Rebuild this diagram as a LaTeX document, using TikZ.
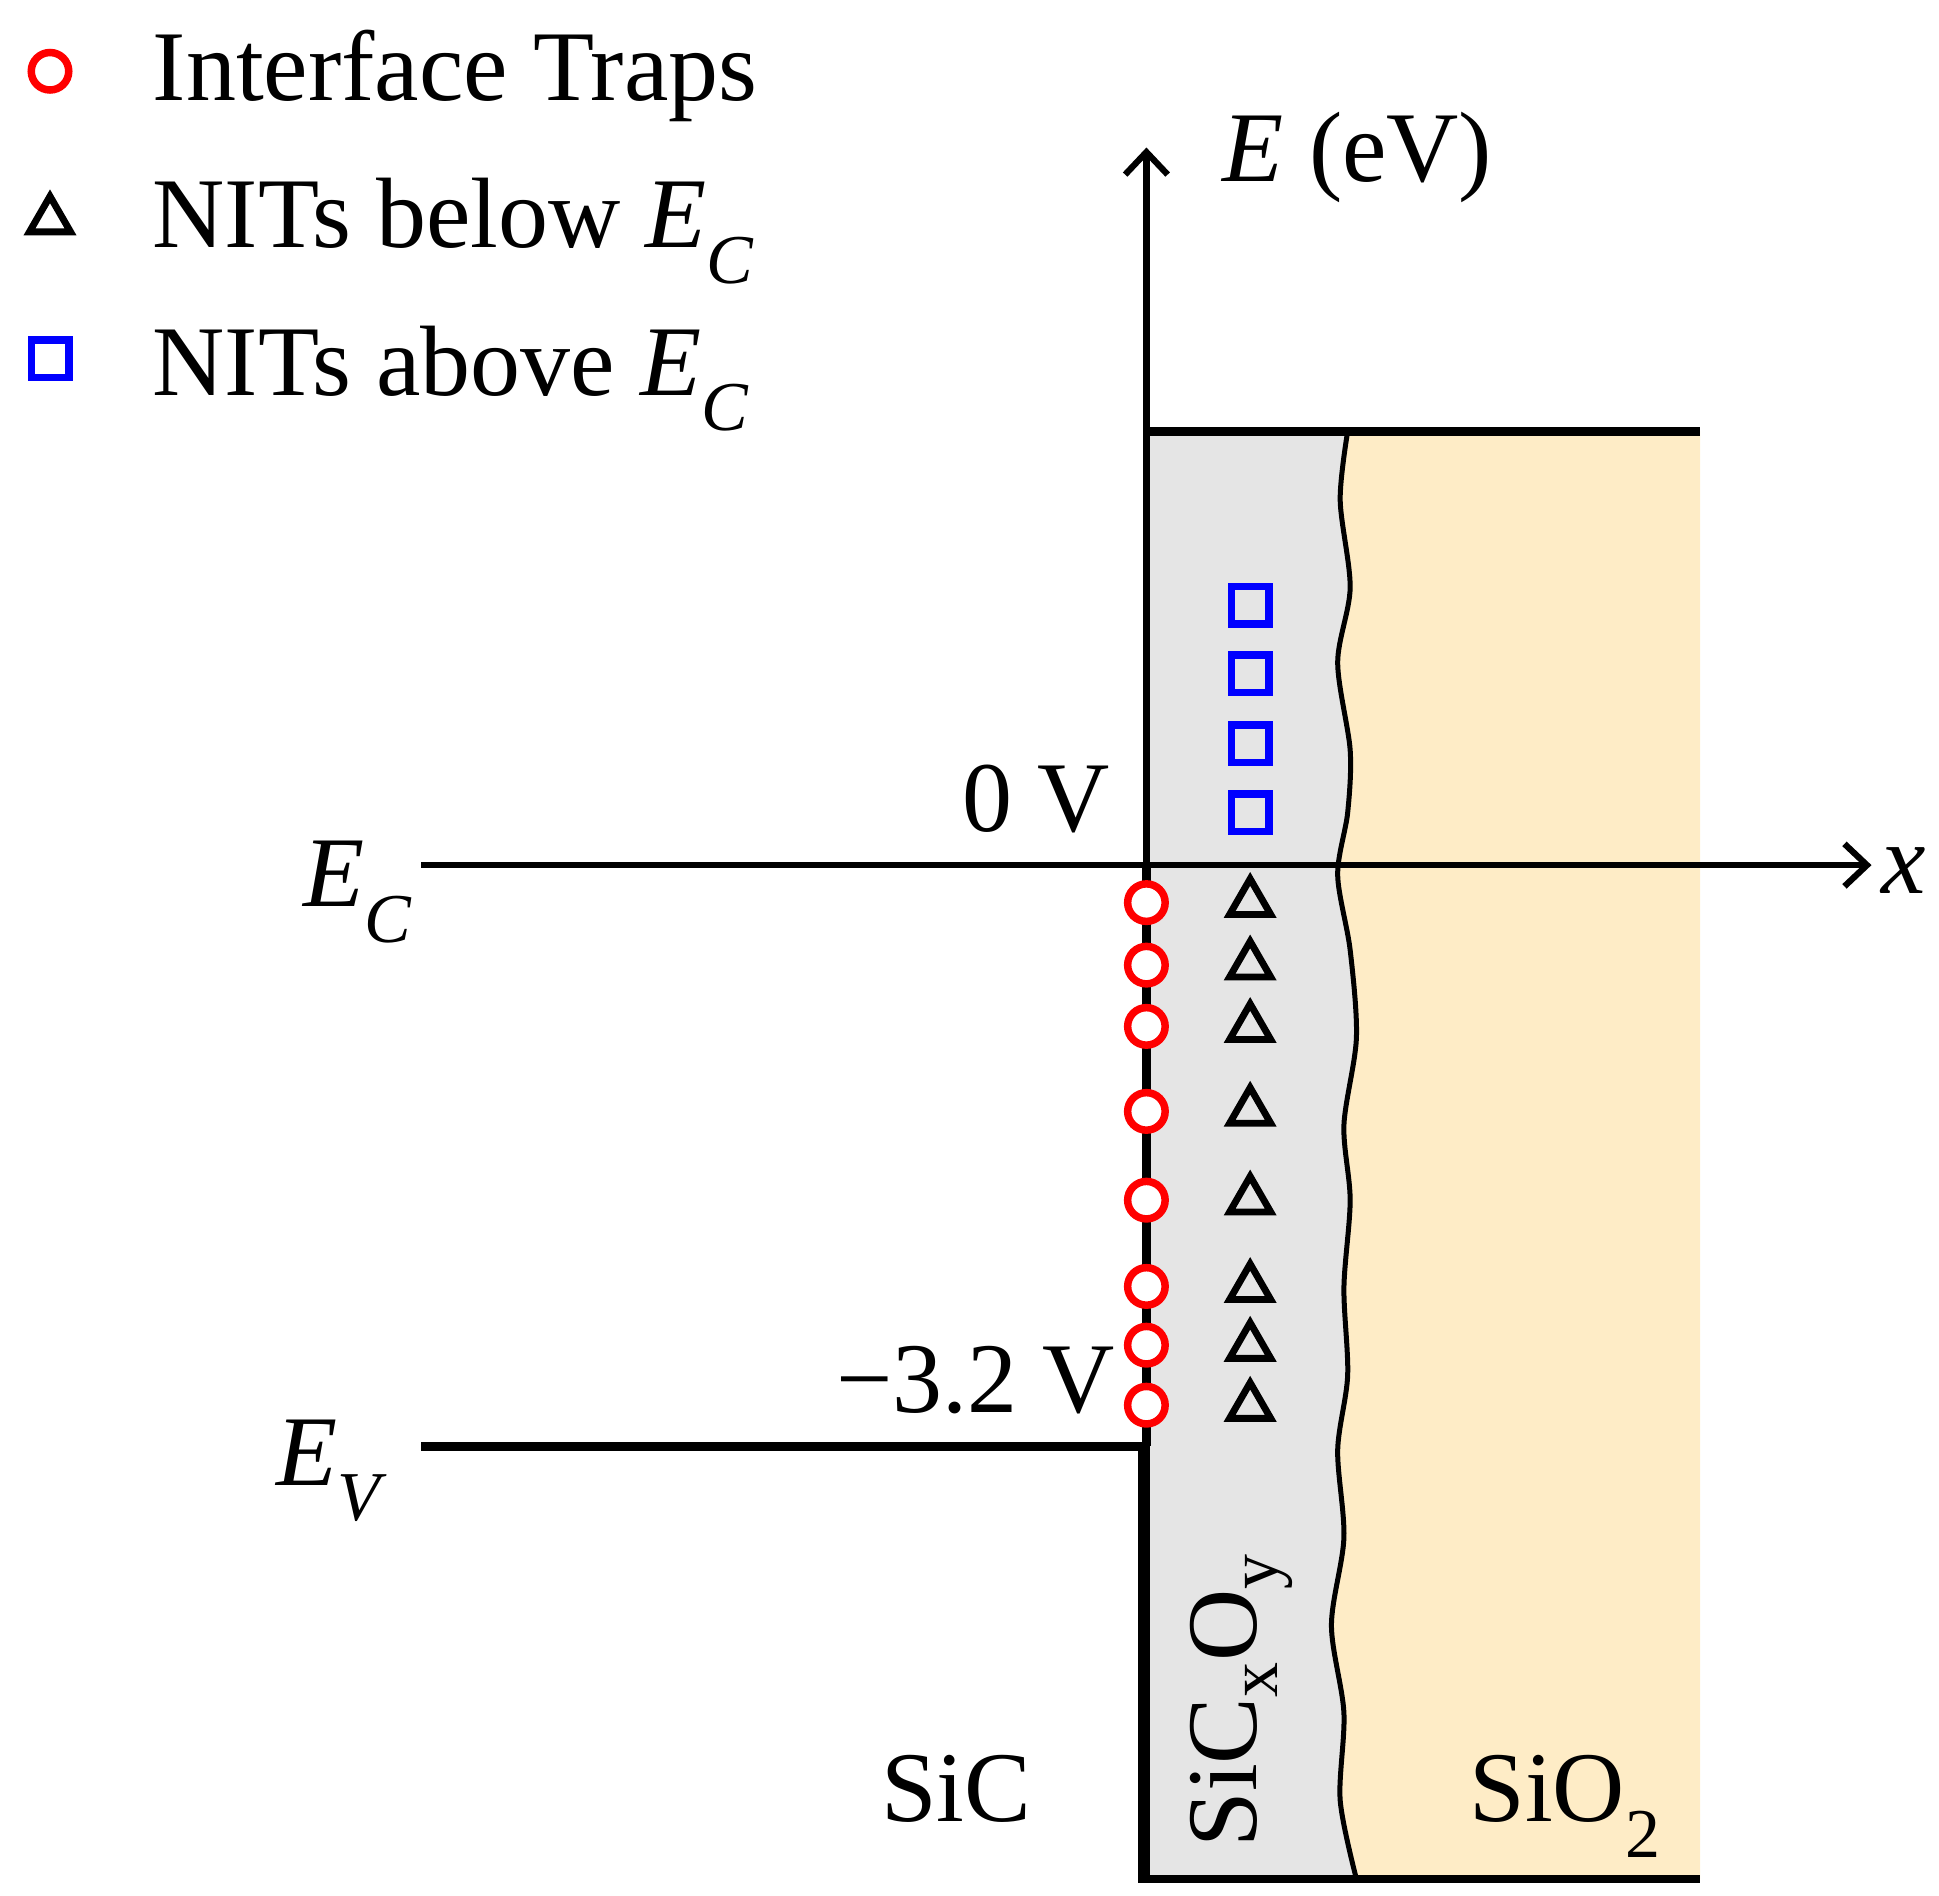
\documentclass[tikz,border=0pt]{standalone}
\usepackage{fontspec}
\setmainfont{Liberation Serif}
\usetikzlibrary{arrows.meta,shapes.geometric}
\newcommand{\Ecs}{\textit{E}\textsubscript{\textit{C}}}
\newcommand{\Evs}{\textit{E}\textsubscript{\textit{V}}}
\begin{document}
\begin{tikzpicture}[x=1pt,y=-1pt,
  lbl/.style={font=\fontsize{80}{90}\selectfont, inner sep=0pt},
  trap/.style={circle, draw=red, line width=6pt, fill=white, minimum size=30pt, inner sep=0pt},
  nitb/.style={regular polygon, regular polygon sides=3, draw=black, line width=5.5pt, minimum size=38pt, inner sep=0pt},
  nita/.style={rectangle, draw=blue, line width=6pt, minimum size=30pt, inner sep=0pt},
  band/.style={line width=7pt},
  axis/.style={line width=5pt, -{Straight Barb[length=18pt,width=34pt,line width=5pt]}}]
\useasboundingbox (0,0) rectangle (1551,1516);
% regions
\def\wave{(1078,345) (1072,400) (1080,470) (1070,530) (1080,600) (1078,650) (1070,700) (1080,760) (1085,830) (1075,900) (1080,960) (1075,1030) (1078,1100) (1070,1160) (1075,1230) (1065,1300) (1075,1370) (1072,1440) (1085,1503)}
\fill[black!10] (917,345) -- plot[smooth] coordinates {\wave} -- (917,1503) -- cycle;
\fill[yellow!35!orange!20] (1360,345) -- plot[smooth] coordinates {\wave} -- (1360,1503) -- cycle;
\draw[line width=4pt] plot[smooth] coordinates {\wave};
\coordinate (yb) at (917,1503); \coordinate (yt) at (917,118);
\coordinate (xl) at (337,692); \coordinate (xr) at (1497,692);
\draw[axis] (yb) -- (yt);
\draw[axis] (xl) -- (xr);
\coordinate (t1) at (917,345); \coordinate (t2) at (1360,345);
\coordinate (b1) at (914,1503); \coordinate (b2) at (1360,1503);
\coordinate (v1) at (337,1157); \coordinate (v2) at (914,1157);
\coordinate (c1) at (917,692);
\draw[band] (t1) -- (t2);
\draw[band] (v1) -- (v2) -- (b1) -- (b2);
\draw[line width=7pt] (c1) -- (917,1157);
% traps
\foreach \y [count=\i] in {722,772,821,889,960,1029,1076,1124} \node[trap] (r\i) at (917,\y) {};
\foreach \y [count=\i] in {722,772,822,889,960,1030,1077,1125} \node[nitb] (t\i) at (1000,\y) {};
\foreach \y [count=\i] in {484,539,595,650} \node[nita] (s\i) at (1000,\y) {};
% legend
\node[trap] (lr) at (40,57) {};
\node[nitb] (lt) at (40,176) {};
\node[nita] (ls) at (40,287) {};
\node[lbl, anchor=base west] (l1) at (122,80) {Interface Traps};
\node[lbl, anchor=base west] (l2) at (122,198) {NITs below \Ecs};
\node[lbl, anchor=base west] (l3) at (122,316) {NITs above \Ecs};
% labels
\node[lbl, anchor=base west] (el) at (978,145) {\textit{E} (eV)};
\node[lbl, anchor=base west] (xlab) at (1505,715) {\textit{x}};
\node[lbl, anchor=base east] (zv) at (888,665) {0 V};
\node[lbl, anchor=base east] (mv) at (892,1130) {−3.2 V};
\node[lbl, anchor=base east] (ec) at (330,725) {\Ecs};
\node[lbl, anchor=base east] (ev) at (310,1188) {\Evs};
\node[lbl, anchor=base] (sic) at (765,1457) {SiC};
\node[lbl, anchor=base] (sio) at (1252,1457) {SiO\textsubscript{2}};
\node[lbl, rotate=90, anchor=base west] (sico) at (1005,1478) {SiC\textsubscript{x}O\textsubscript{y}};
\end{tikzpicture}
\end{document}
